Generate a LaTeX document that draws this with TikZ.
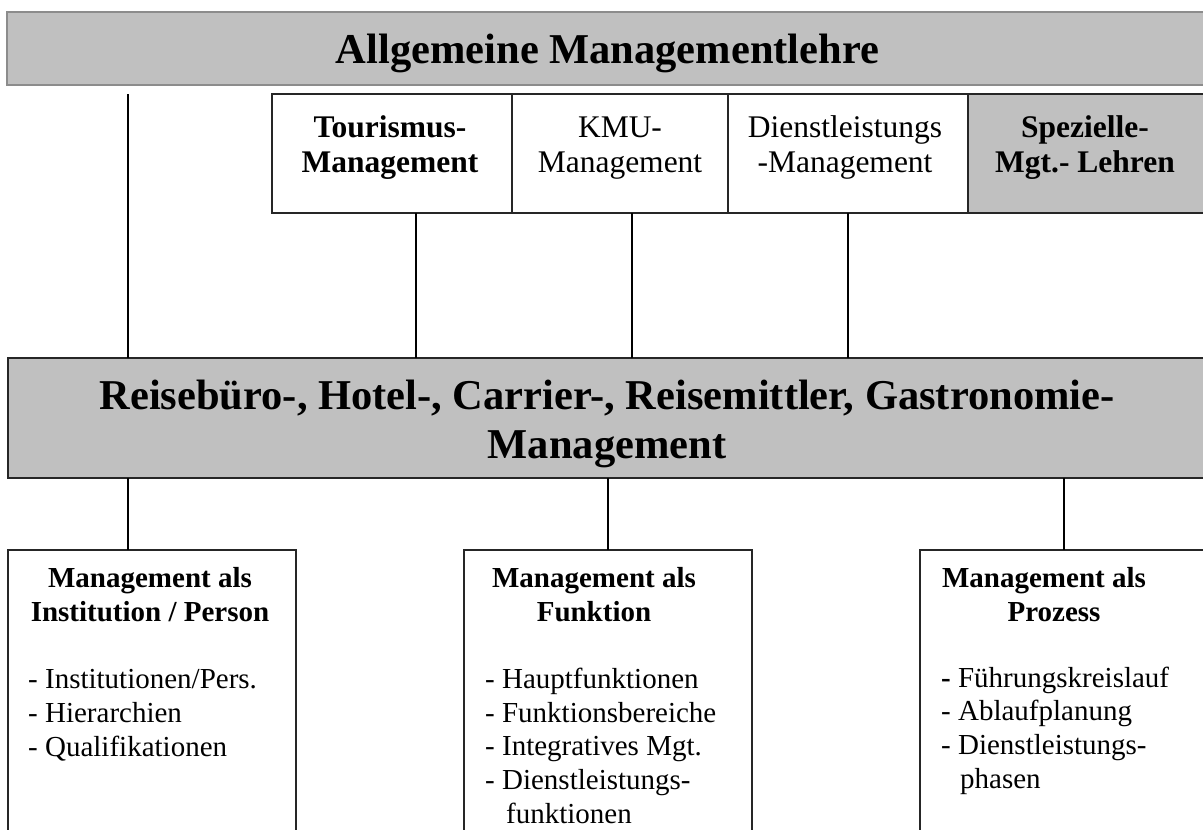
\documentclass[tikz,border=0pt]{standalone}
\usepackage{fontspec}
\setmainfont{Liberation Serif}
\definecolor{panel}{HTML}{C0C0C0}
\definecolor{rim}{HTML}{8C8C8C}
\definecolor{edge}{HTML}{262626}
\begin{document}
\begin{tikzpicture}[x=1pt,y=-1pt,
  cell/.style 2 args={anchor=north west, inner sep=0pt, outer sep=0pt,
    minimum width=#1pt, minimum height=#2pt, line width=2pt, draw=edge},
  shaded/.style={fill=panel},
  wire/.style={line width=2pt, black},
  % multi-line texts are placed by the baseline of their last line
  txt/.style={inner sep=0pt, anchor=base},
  huge/.style={font=\fontsize{42.5}{49}\selectfont\bfseries, align=center},
  mid/.style={font=\fontsize{31.5}{35}\selectfont, align=center},
  midbold/.style={font=\fontsize{31.5}{35}\selectfont\bfseries, align=center},
  smallbold/.style={font=\fontsize{29}{33.6}\selectfont\bfseries, align=center},
  list/.style={font=\fontsize{29}{33.6}\selectfont, align=left,
    anchor=base west, inner sep=0pt}]
\useasboundingbox (0,0) rectangle (1203,830);

% headline bar
\node[cell={1201}{73}, shaded, draw=rim] (top) at (7,12) {};
\node[txt, huge] (toptext) at (607.5,63) {Allgemeine Managementlehre};

% special management disciplines
\node[cell={240}{119}] (tour) at (272,94) {};
\node[cell={216}{119}] (kmu) at (512,94) {};
\node[cell={240}{119}] (dienst) at (728,94) {};
\node[cell={240}{119}, shaded] (spez) at (968,94) {};
\node[txt, midbold] (tourtext) at (390,172) {Tourismus-\\Management};
\node[txt, mid] (kmutext) at (620,172) {KMU-\\Management};
\node[txt, mid] (diensttext) at (845,172) {Dienstleistungs\\-Management};
\node[txt, midbold] (speztext) at (1085,172) {Spezielle-\\Mgt.- Lehren};

% tourism branches
\node[cell={1200}{120}, shaded] (reise) at (7.5,358) {};
\node[txt, huge] (reisetext) at (607,458)
  {Reisebüro-, Hotel-, Carrier-, Reisemittler, Gastronomie-\\Management};

% three views of management
\node[cell={288.5}{300}] (inst) at (7.5,550) {};
\node[cell={288}{300}] (funk) at (464,550) {};
\node[cell={290}{300}] (proz) at (920,550) {};

\node[txt, smallbold] (insttitle) at (150,621)
  {Management als\\Institution / Person};
\node[list] (instlist) at (28,756)
  {- Institutionen/Pers.\\- Hierarchien\\- Qualifikationen};

\node[txt, smallbold] (funktitle) at (594,621)
  {Management als\\Funktion};
\node[list] (funklist) at (485,823)
  {- Hauptfunktionen\\- Funktionsbereiche\\- Integratives Mgt.\\- Dienstleistungs-\\\hspace*{21pt}funktionen};

\node[txt, smallbold] (proztitle) at (1044,621)
  {Management als\\\hspace*{20pt}Prozess};
\node[list] (prozlist) at (941,788)
  {\textbf{-} Führungskreislauf\\- Ablaufplanung\\- Dienstleistungs-\\\hspace*{19pt}phasen};

% connectors
\draw[wire] (128,0 |- tour.north) -- (128,0 |- reise.north);
\draw[wire] (416,0 |- tour.south) -- (416,0 |- reise.north);
\draw[wire] (632,0 |- kmu.south) -- (632,0 |- reise.north);
\draw[wire] (dienst.south) -- (dienst.south |- reise.north);
\draw[wire] (128,0 |- reise.south) -- (128,0 |- inst.north);
\draw[wire] (reise.south -| funk.north) -- (funk.north);
\draw[wire] (1064,0 |- reise.south) -- (1064,0 |- proz.north);
\end{tikzpicture}
\end{document}
